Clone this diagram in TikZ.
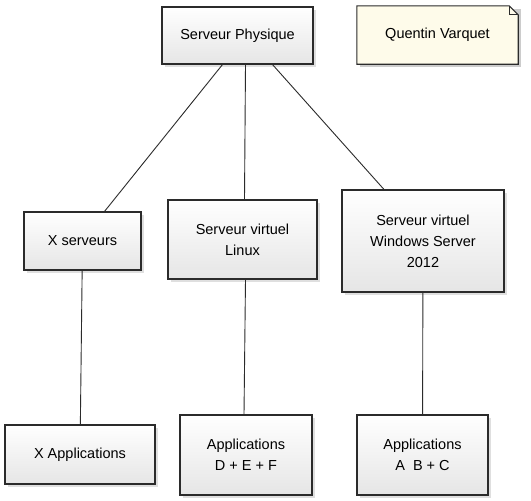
\documentclass[tikz,border=0pt]{standalone}
\usepackage{fontspec}
\setmainfont{Liberation Sans}
\usepackage{tikz}
\usetikzlibrary{calc,shadows,backgrounds,positioning}

\definecolor{trait}{HTML}{2B2B2B}
\definecolor{notefond}{HTML}{FEFBEA}

\tikzset{
  boite/.style = {draw=trait, line width=1.1pt, align=center,
    top color=white, bottom color=black!10,
    drop shadow={shadow xshift=3pt, shadow yshift=-3pt, opacity=0.25},
    font=\fontsize{14.5}{21}\selectfont, inner sep=0pt},
  lien/.style = {draw=trait, line width=0.9pt},
}

\begin{document}
\begin{tikzpicture}[x=1pt, y=-1pt]
\useasboundingbox (0,0) rectangle (531,501);

\node[boite, minimum width=151pt, minimum height=57pt] (physique) at (237.5,35.5) {Serveur Physique};
\node[align=center, font=\fontsize{14.5}{21}\selectfont, minimum width=161pt, minimum height=58pt, inner sep=0pt] (auteur) at (437.5,35) {Quentin Varquet};

\node[boite, minimum width=117pt, minimum height=58pt] (xserv) at (82.5,241) {X serveurs};
\node[boite, minimum width=149pt, minimum height=79pt] (linux) at (242.5,239.5) {Serveur virtuel\\Linux};
\node[boite, minimum width=162pt, minimum height=102pt] (windows) at (423,241) {Serveur virtuel\\Windows Server\\2012};

\node[boite, minimum width=150pt, minimum height=59pt] (xappli) at (80,454.5) {X Applications};
\node[boite, minimum width=132pt, minimum height=80pt] (appdef) at (246,455) {Applications\\D + E + F};
\node[boite, minimum width=131pt, minimum height=80pt] (appabc) at (422.5,455) {Applications\\A~~B + C};

\begin{scope}[on background layer]
\fill[white] (0,0) rectangle (531,501);
\fill[black, opacity=0.2] ($(auteur.south west)+(3,3)$) -- ($(auteur.north west)+(3,3)$)
  -- ($(auteur.north east)+(3,3)$) -- ($(auteur.south east)+(3,3)$) -- cycle;
\filldraw[fill=notefond, draw=trait, line width=1.1pt] (auteur.south west) -- (auteur.north west)
  -- ($(auteur.north east)+(-9,0)$) -- ($(auteur.north east)+(0,9)$) -- (auteur.south east) -- cycle;
\draw[trait, line width=0.8pt] ($(auteur.north east)+(-9,0)$) -- ($(auteur.north east)+(-9,9)$) -- ($(auteur.north east)+(0,9)$);
\end{scope}

\draw[lien] ($(physique.south)+(-15,0)$) -- ($(xserv.north)+(22,0)$);
\draw[lien] ($(physique.south)+(8,0)$) -- ($(linux.north)+(2,0)$);
\draw[lien] ($(physique.south)+(35,0)$) -- ($(windows.north)+(-39,0)$);

\draw[lien] (xserv) -- (xappli);
\draw[lien] ($(linux.south)+(3,0)$) -- ($(appdef.north)+(-2,0)$);
\draw[lien] (windows) -- (appabc);
\end{tikzpicture}
\end{document}
